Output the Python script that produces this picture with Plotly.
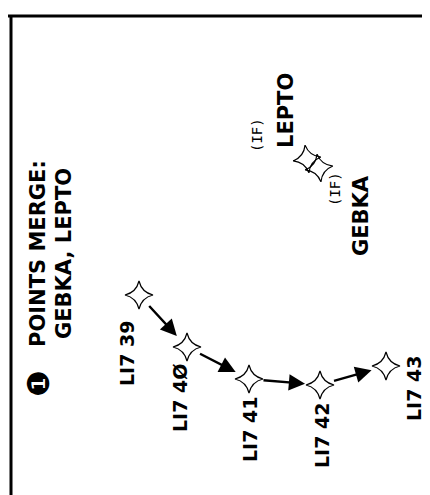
import plotly.graph_objects as go

# Waypoints of the transition (chart position in page units, y grows downward)
fix_names = ["LI739", "LI740", "LI741", "LI742", "LI743"]
fix_x = [131, 179, 241, 312, 378]
fix_y = [287, 339, 371, 377, 358]
fix_labels = ["LI7 39", "LI7 4Ø", "LI7 41", "LI7 42", "LI7 43"]
label_x = [119, 172, 242, 314, 406]
label_y = [346, 390, 422, 428, 381]

# Merge points (initial fixes)
merge_names = ["LEPTO", "GEBKA"]
merge_x = [299, 311]
merge_y = [151, 160]
merge_label_x = [278, 353]
merge_label_y = [103, 208]
merge_tag = ["(IF)", "(IF)"]
merge_tag_x = [249, 327]
merge_tag_y = [127, 181]

note_line1 = "POINTS MERGE:"
note_line2 = "GEBKA, LEPTO"
note_bullet = "❶"

W, H = 430, 495
BOLD = "DejaVu Sans"

fig = go.Figure()

fig.add_trace(go.Scatter(
    x=fix_x, y=fix_y, mode="markers", text=fix_names, hoverinfo="text",
    marker=dict(symbol="star-diamond-open", size=20, color="black",
                line=dict(width=1.2, color="black")),
    showlegend=False))

fig.add_trace(go.Scatter(
    x=merge_x, y=merge_y, mode="markers", text=merge_names, hoverinfo="text",
    marker=dict(symbol="star-diamond-open", size=20, color="black", angle=-8,
                line=dict(width=1.2, color="black")),
    showlegend=False))

ann = []
# arrows between successive fixes
for i in range(len(fix_x) - 1):
    ann.append(dict(x=fix_x[i + 1], y=fix_y[i + 1], ax=fix_x[i], ay=fix_y[i],
                    xref="x", yref="y", axref="x", ayref="y", text="",
                    showarrow=True, arrowhead=2, arrowsize=1.35, arrowwidth=2.4,
                    arrowcolor="black", standoff=15, startstandoff=13))

for t, x, y in zip(fix_labels, label_x, label_y):
    ann.append(dict(x=x, y=y, xref="x", yref="y", text=f"<b>{t}</b>", textangle=-90,
                    showarrow=False, xanchor="center", yanchor="middle",
                    font=dict(family=BOLD, size=19, color="black")))

for t, x, y in zip(merge_names, merge_label_x, merge_label_y):
    ann.append(dict(x=x, y=y, xref="x", yref="y", text=f"<b>{t}</b>", textangle=-90,
                    showarrow=False, xanchor="center", yanchor="middle",
                    font=dict(family=BOLD, size=21, color="black")))

for t, x, y in zip(merge_tag, merge_tag_x, merge_tag_y):
    ann.append(dict(x=x, y=y, xref="x", yref="y", text=t, textangle=-90,
                    showarrow=False, xanchor="center", yanchor="middle",
                    font=dict(family="DejaVu Sans Mono", size=14, color="black")))

ann.append(dict(x=30, y=246, xref="x", yref="y", text=f"<b>{note_line1}</b>", textangle=-90,
                showarrow=False, xanchor="center", yanchor="middle",
                font=dict(family=BOLD, size=21, color="black")))
ann.append(dict(x=56, y=246, xref="x", yref="y", text=f"<b>{note_line2}</b>", textangle=-90,
                showarrow=False, xanchor="center", yanchor="middle",
                font=dict(family=BOLD, size=21, color="black")))
ann.append(dict(x=30, y=376, xref="x", yref="y", text=note_bullet, textangle=-90,
                showarrow=False, xanchor="center", yanchor="middle",
                font=dict(family="DejaVu Sans", size=30, color="black")))

shapes = [
    dict(type="line", xref="x", yref="y", x0=0, x1=W, y0=8, y1=8,
         line=dict(color="black", width=3)),
    dict(type="line", xref="x", yref="y", x0=3, x1=3, y0=8, y1=H,
         line=dict(color="black", width=3)),
]

fig.update_layout(
    width=W, height=H, margin=dict(l=0, r=0, t=0, b=0),
    paper_bgcolor="white", plot_bgcolor="white",
    xaxis=dict(range=[0, W], visible=False, fixedrange=True),
    yaxis=dict(range=[H, 0], visible=False, fixedrange=True),
    annotations=ann, shapes=shapes, showlegend=False)

fig.write_html("out.html")
